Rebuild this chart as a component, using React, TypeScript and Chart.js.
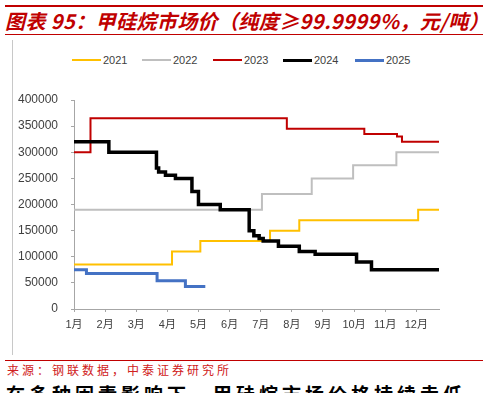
import React, { useEffect, useRef } from "react";
import { Chart, registerables } from "chart.js";

Chart.register(...registerables);

// Series labels and colours
const seriesNames = ["2021", "2022", "2023", "2024", "2025"];
const seriesColors = ["#FFC000", "#BFBFBF", "#C00000", "#000000", "#4472C4"];

// Step points: month position (1 = 1月) where a price level starts, price in 元/吨
const x2021 = [1, 4.15, 5.06, 7.3, 8.24, 12.06, 12.73];
const y2021 = [85000, 110000, 130000, 150000, 170000, 190000, 190000];

const x2022 = [1, 7.04, 8.64, 9.97, 11.36, 12.73];
const y2022 = [190000, 220000, 250000, 275000, 300000, 300000];

const x2023 = [1, 1.53, 7.84, 10.33, 11.38, 11.54, 12.73];
const y2023 = [300000, 365000, 345000, 335000, 330000, 320000, 320000];

const x2024 = [1, 2.12, 3.65, 3.72, 3.94, 4.26, 4.79, 5.0, 5.7, 6.63, 6.78, 6.95, 7.08, 7.57, 8.24, 8.75, 10.08, 10.56, 12.73];
const y2024 = [320000, 300000, 270000, 262000, 256000, 250000, 225000, 200000, 190000, 150000, 140000, 135000, 130000, 120000, 110000, 105000, 90000, 75000, 75000];

const x2025 = [1, 1.4, 3.67, 4.58, 5.22];
const y2025 = [75000, 68000, 54000, 43000, 43000];

const monthLabels = ["1月", "2月", "3月", "4月", "5月", "6月", "7月", "8月", "9月", "10月", "11月", "12月"];
const yMax = 400000;
const yStep = 50000;
const xMax = 12.73;

const seriesX = [x2021, x2022, x2023, x2024, x2025];
const seriesY = [y2021, y2022, y2023, y2024, y2025];
const seriesWidths = [2, 2, 2, 3.5, 3];

const FONT = "'Liberation Sans', Arial, 'Noto Sans CJK SC', sans-serif";

export default function App() {
  const canvasRef = useRef<HTMLCanvasElement | null>(null);

  useEffect(() => {
    if (!canvasRef.current) return;
    const datasets = seriesNames.map((name, i) => ({
      label: name,
      data: seriesX[i].map((x, j) => ({ x, y: seriesY[i][j] })),
      borderColor: seriesColors[i],
      backgroundColor: seriesColors[i],
      borderWidth: seriesWidths[i],
      pointRadius: 0,
      stepped: "before" as const,
      fill: false,
      order: seriesNames.length - 1 - i,
    }));
    const chart = new Chart(canvasRef.current, {
      type: "line",
      data: { datasets },
      options: {
        animation: false,
        responsive: false,
        devicePixelRatio: 1,
        layout: { padding: { left: 12, right: 44, top: 60, bottom: 11 } },
        plugins: { legend: { display: false }, tooltip: { enabled: false } },
        scales: {
          x: {
            type: "linear",
            min: 1,
            max: xMax,
            afterFit: (s: any) => {
              s.height = 30;
            },
            afterBuildTicks: (s: any) => {
              s.ticks = monthLabels.map((_, i) => ({ value: i + 1 }));
            },
            ticks: {
              autoSkip: false,
              maxRotation: 0,
              padding: 6,
              color: "#404040",
              font: { family: FONT, size: 11 },
              callback: (v: any) => monthLabels[Number(v) - 1] ?? "",
            },
            grid: {
              display: true,
              drawOnChartArea: false,
              drawTicks: true,
              tickLength: 3,
              color: "#A6A6A6",
            },
            border: { display: true, color: "#A6A6A6" },
          },
          y: {
            min: 0,
            max: yMax,
            afterFit: (s: any) => {
              s.width = 62;
            },
            ticks: {
              stepSize: yStep,
              padding: 13,
              color: "#404040",
              font: { family: FONT, size: 12 },
              callback: (v: any) => String(v),
            },
            grid: {
              display: true,
              drawOnChartArea: false,
              drawTicks: true,
              tickLength: 3,
              color: "#A6A6A6",
            },
            border: { display: true, color: "#A6A6A6" },
          },
        },
      },
    });
    return () => chart.destroy();
  }, []);

  const legendLeft = [72, 142, 213, 283, 355];

  return (
    <div
      style={{
        position: "fixed",
        left: 0,
        top: 0,
        width: 493,
        height: 393,
        overflow: "hidden",
        background: "#fff",
      }}
    >
      <div style={{ position: "absolute", left: 5, top: 5, width: 478, height: 2, background: "#C00000" }} />
      <div
        style={{
          position: "absolute",
          left: 5,
          top: 10,
          whiteSpace: "nowrap",
          color: "#C00000",
          fontFamily: "'Noto Sans CJK SC', sans-serif",
          fontWeight: 700,
          fontStyle: "italic",
          fontSize: 20,
          letterSpacing: 0.4,
          lineHeight: "22px",
        }}
      >
        图表 95：甲硅烷市场价（纯度≥99.9999%，元/吨）
      </div>
      <div style={{ position: "absolute", left: 5, top: 34, width: 478, height: 1, background: "#C00000" }} />
      <div style={{ position: "absolute", left: 12, top: 40, width: 1, height: 315, background: "#C8C8C8" }} />

      {seriesNames.map((name, i) => (
        <div key={name}>
          <div
            style={{
              position: "absolute",
              left: legendLeft[i],
              top: 59,
              width: 29,
              height: i >= 3 ? 3 : 2,
              background: seriesColors[i],
            }}
          />
          <div
            style={{
              position: "absolute",
              left: legendLeft[i] + 31,
              top: 53,
              fontFamily: FONT,
              fontSize: 11,
              lineHeight: "14px",
              color: "#404040",
            }}
          >
            {name}
          </div>
        </div>
      ))}

      <canvas
        ref={canvasRef}
        width={483}
        height={310}
        style={{ position: "absolute", left: 0, top: 40, width: 483, height: 310 }}
      />

      <div style={{ position: "absolute", left: 5, top: 360, width: 478, height: 1, background: "#C00000" }} />
      <div
        style={{
          position: "absolute",
          left: 7,
          top: 362,
          whiteSpace: "nowrap",
          color: "#D02020",
          fontFamily: "'Noto Sans CJK SC', sans-serif",
          fontSize: 12,
          letterSpacing: 3,
          lineHeight: "16px",
        }}
      >
        来源：钢联数据，中泰证券研究所
      </div>
      <div
        style={{
          position: "absolute",
          left: 6,
          top: 382,
          whiteSpace: "nowrap",
          color: "#000",
          fontFamily: "'Noto Sans CJK SC', sans-serif",
          fontWeight: 700,
          fontSize: 19,
          letterSpacing: 4,
          lineHeight: "24px",
        }}
      >
        在多种因素影响下，甲硅烷市场价格持续走低。
      </div>
    </div>
  );
}
